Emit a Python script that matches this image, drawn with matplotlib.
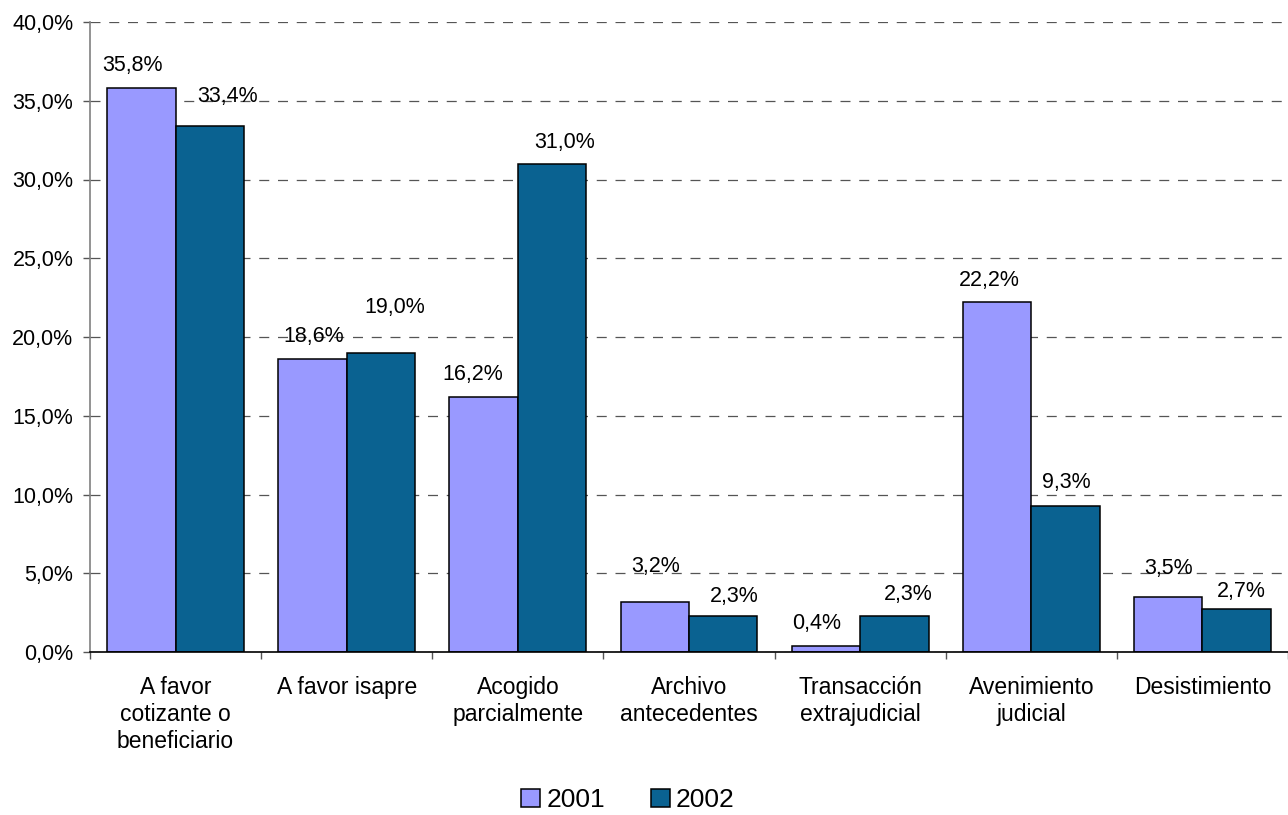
import matplotlib
matplotlib.use("Agg")
import matplotlib.pyplot as plt
from matplotlib.ticker import FuncFormatter, FixedLocator
import numpy as np

categories = ["A favor\ncotizante o\nbeneficiario", "A favor isapre", "Acogido\nparcialmente",
              "Archivo\nantecedentes", "Transacción\nextrajudicial", "Avenimiento\njudicial",
              "Desistimiento"]
values_2001 = [35.8, 18.6, 16.2, 3.2, 0.4, 22.2, 3.5]
values_2002 = [33.4, 19.0, 31.0, 2.3, 2.3, 9.3, 2.7]
series_names = ["2001", "2002"]
yticks = [0, 5, 10, 15, 20, 25, 30, 35, 40]

# label offsets (pixels) relative to bar top-center: dx, dy
off_2001 = [(-9, 23), (1, 23), (-11, 22), (1, 35), (-9, 22), (-8, 22), (0, 28)]
off_2002 = [(18, 29), (14, 45), (13, 21), (11, 19), (14, 21), (1, 23), (5, 18)]

colors = ["#9999FF", "#0A6291"]
FONT = "Liberation Sans"
plt.rcParams["font.family"] = [FONT, "DejaVu Sans"]

fig = plt.figure(figsize=(12.88, 8.15), dpi=100)
ax = fig.add_axes([90 / 1288, 1 - 652 / 815, (1288 - 90) / 1288, (652 - 22) / 815])

x = np.arange(len(categories))
w = 0.4
b1 = ax.bar(x - w / 2, values_2001, w, color=colors[0], edgecolor="black", linewidth=1.1,
            label=series_names[0], zorder=3)
b2 = ax.bar(x + w / 2, values_2002, w, color=colors[1], edgecolor="black", linewidth=1.1,
            label=series_names[1], zorder=3)

def fmt(v):
    return f"{v:.1f}".replace(".", ",") + "%"

for xs, vals, offs in ((x - w / 2, values_2001, off_2001), (x + w / 2, values_2002, off_2002)):
    for xi, v, (dx, dy) in zip(xs, vals, offs):
        ax.annotate(fmt(v), (xi, v), xytext=(dx, dy), textcoords="offset pixels",
                    ha="center", va="center", fontsize=15.5, zorder=4)

ax.set_xlim(-0.5, len(categories) - 0.5)
ax.set_ylim(0, 40)
ax.yaxis.set_major_locator(FixedLocator(yticks))
ax.yaxis.set_major_formatter(FuncFormatter(lambda v, p: fmt(v)))
ax.tick_params(axis="y", labelsize=15.5, length=5, width=1, color="#555555", pad=7)

ax.set_xticks(x)
ax.set_xticklabels(categories, fontsize=16.5, linespacing=1.22, va="top")
ax.tick_params(axis="x", which="major", length=0, pad=17)
ax.set_xticks(np.arange(-0.5, len(categories), 1.0), minor=True)
ax.tick_params(axis="x", which="minor", length=5, width=1, color="#555555")

ax.yaxis.grid(True, linestyle=(0, (8, 7)), color="#555555", linewidth=0.9)
ax.set_axisbelow(True)
for s in ("top", "right"):
    ax.spines[s].set_visible(False)
ax.spines["left"].set_color("#808080")
ax.spines["left"].set_linewidth(1.2)
ax.spines["bottom"].set_color("black")
ax.spines["bottom"].set_linewidth(1.2)
ax.spines["bottom"].set_zorder(5)

leg = fig.legend(handles=[b1, b2], labels=series_names, loc="center",
                 bbox_to_anchor=(628 / 1288, 1 - 800 / 815), ncol=2, frameon=False,
                 fontsize=19, handlelength=0.7, handleheight=0.7, handletextpad=0.25,
                 columnspacing=1.75)

fig.savefig("out.png", dpi=100)
